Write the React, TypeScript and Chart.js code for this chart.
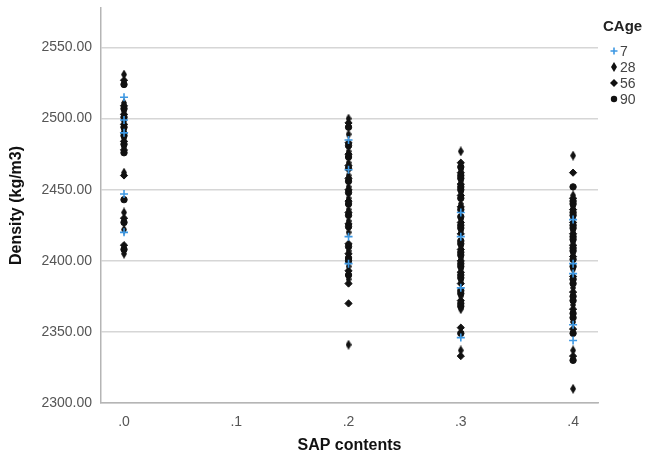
import { useEffect, useRef } from "react";
import { Chart, registerables } from "chart.js";

Chart.register(...registerables);

// SAP content levels (x) and the axis tick values
const sapLevels = [0, 0.2, 0.3, 0.4];
const xTickValues = [0, 0.1, 0.2, 0.3, 0.4];
const yTickValues = [2300, 2350, 2400, 2450, 2500, 2550];
const ageGroups = ["7", "28", "56", "90"];

// Density (kg/m3) per curing age; each row belongs to the matching entry of sapLevels
const age7 = [
  [2515, 2499, 2490, 2447, 2420],
  [2485, 2464, 2417, 2398],
  [2434, 2417, 2381, 2346],
  [2429, 2398, 2391, 2355, 2344],
];
const age28 = [
  [2531, 2511, 2505, 2498, 2492, 2486, 2480, 2462, 2434, 2422, 2405],
  [2500, 2489, 2477, 2469, 2460, 2452, 2444, 2436, 2428, 2420, 2407, 2396, 2387, 2341],
  [2477, 2464, 2456, 2448, 2440, 2429, 2421, 2410, 2402, 2394, 2386, 2375, 2366, 2337],
  [2474, 2446, 2438, 2430, 2421, 2413, 2405, 2394, 2381, 2369, 2357, 2337, 2310],
];
const age56 = [
  [2527, 2509, 2503, 2496, 2490, 2484, 2478, 2460, 2430, 2411],
  [2497, 2483, 2475, 2467, 2458, 2450, 2442, 2434, 2426, 2412, 2405, 2393, 2384, 2370],
  [2469, 2462, 2454, 2446, 2438, 2427, 2419, 2408, 2400, 2392, 2384, 2372, 2353, 2333],
  [2462, 2444, 2436, 2427, 2419, 2411, 2403, 2389, 2378, 2366, 2352, 2333],
];
const age90 = [
  [2524, 2507, 2501, 2494, 2488, 2482, 2476, 2443, 2427, 2408],
  [2494, 2481, 2473, 2465, 2456, 2448, 2440, 2432, 2424, 2410, 2402, 2400, 2390],
  [2466, 2460, 2458, 2452, 2450, 2444, 2436, 2431, 2425, 2423, 2414, 2412, 2406, 2404, 2398, 2396, 2390, 2388, 2379, 2377, 2370, 2368, 2349],
  [2452, 2442, 2440, 2434, 2432, 2425, 2423, 2417, 2415, 2409, 2407, 2401, 2396, 2387, 2384, 2375, 2372, 2363, 2360, 2349, 2330],
];

const FONT = "'Liberation Sans', Arial, sans-serif";
const BLUE = "#3d98e3";
const INK = "#111111";

function toPoints(rows: number[][]) {
  const pts: { x: number; y: number }[] = [];
  rows.forEach((row, i) => row.forEach((y) => pts.push({ x: sapLevels[i], y })));
  return pts;
}

// narrow vertical diamond used for the 28-day marker
function thinDiamond(w: number, h: number) {
  const c = document.createElement("canvas");
  c.width = w;
  c.height = h;
  const g = c.getContext("2d")!;
  g.fillStyle = INK;
  g.beginPath();
  g.moveTo(w / 2, 0);
  g.lineTo(w, h / 2);
  g.lineTo(w / 2, h);
  g.lineTo(0, h / 2);
  g.closePath();
  g.fill();
  return c;
}

export default function App() {
  const ref = useRef<HTMLCanvasElement | null>(null);

  useEffect(() => {
    document.body.style.margin = "0";
    const canvas = ref.current;
    if (!canvas) return;
    const diamond28 = thinDiamond(6, 10);

    const markerStyles: any[] = [
      { pointStyle: "cross", radius: 4, color: BLUE, borderWidth: 1.6 },
      { pointStyle: diamond28, radius: 4, color: INK, borderWidth: 1 },
      { pointStyle: "rectRot", radius: 3.6, color: INK, borderWidth: 1 },
      { pointStyle: "circle", radius: 3.2, color: INK, borderWidth: 1 },
    ];
    const seriesRows = [age7, age28, age56, age90];

    const datasets = ageGroups.map((label, i) => ({
      label,
      data: toPoints(seriesRows[i]),
      pointStyle: markerStyles[i].pointStyle,
      pointRadius: markerStyles[i].radius,
      pointBackgroundColor: markerStyles[i].color,
      pointBorderColor: markerStyles[i].color,
      pointBorderWidth: markerStyles[i].borderWidth,
      showLine: false,
    }));

    const legendPlugin = {
      id: "cageLegend",
      afterDraw(chart: any) {
        const ctx = chart.ctx as CanvasRenderingContext2D;
        ctx.save();
        ctx.textBaseline = "middle";
        ctx.textAlign = "left";
        ctx.fillStyle = "#222";
        ctx.font = `bold 15px ${FONT}`;
        ctx.fillText("CAge", 603, 27);
        ctx.font = `14px ${FONT}`;
        ageGroups.forEach((label, i) => {
          const y = 51 + i * 16;
          const mx = 614;
          const st = markerStyles[i];
          ctx.fillStyle = st.color;
          ctx.strokeStyle = st.color;
          if (st.pointStyle === "cross") {
            ctx.lineWidth = 1.6;
            ctx.beginPath();
            ctx.moveTo(mx - 3.5, y);
            ctx.lineTo(mx + 3.5, y);
            ctx.moveTo(mx, y - 3.5);
            ctx.lineTo(mx, y + 3.5);
            ctx.stroke();
          } else if (st.pointStyle === "circle") {
            ctx.beginPath();
            ctx.arc(mx, y, 3.2, 0, Math.PI * 2);
            ctx.fill();
          } else if (st.pointStyle === "rectRot") {
            ctx.beginPath();
            ctx.moveTo(mx, y - 4);
            ctx.lineTo(mx + 4, y);
            ctx.lineTo(mx, y + 4);
            ctx.lineTo(mx - 4, y);
            ctx.closePath();
            ctx.fill();
          } else {
            ctx.drawImage(diamond28, mx - 3, y - 5, 6, 10);
          }
          ctx.fillStyle = "#444";
          ctx.fillText(label, 620, y + 1);
        });
        ctx.restore();
      },
    };

    const chart = new Chart(canvas, {
      type: "scatter",
      data: { datasets },
      plugins: [legendPlugin],
      options: {
        animation: false,
        responsive: false,
        devicePixelRatio: 1,
        layout: { padding: { top: 8, right: 47, left: 0, bottom: 0 } },
        plugins: { legend: { display: false }, tooltip: { enabled: false } },
        scales: {
          x: {
            type: "linear",
            min: -0.0205,
            max: 0.4222,
            afterBuildTicks: (scale: any) => {
              scale.ticks = xTickValues.map((value) => ({ value }));
            },
            afterFit: (scale: any) => {
              scale.height = 55;
            },
            grid: { display: false, drawTicks: false },
            border: { display: true, color: "#b5b5b5", width: 1.5 },
            ticks: {
              padding: 11,
              color: "#555",
              font: { family: FONT, size: 14 },
              callback: (v: any) => Number(v).toFixed(1).replace(/^0/, ""),
            },
            title: {
              display: true,
              text: "SAP contents",
              color: "#111",
              font: { family: FONT, size: 16, weight: "bold" },
              padding: { top: 0, bottom: 3 },
            },
          },
          y: {
            type: "linear",
            min: 2300,
            max: 2577.8,
            afterBuildTicks: (scale: any) => {
              scale.ticks = yTickValues.map((value) => ({ value }));
            },
            afterFit: (scale: any) => {
              scale.width = 101;
              scale.paddingTop = 0;
            },
            grid: { color: "#d6d6d6", lineWidth: 1.5, drawTicks: false },
            border: { display: true, color: "#b5b5b5", width: 1.5 },
            ticks: {
              padding: 9,
              color: "#555",
              font: { family: FONT, size: 14 },
              callback: (v: any) => Number(v).toFixed(2),
            },
            title: {
              display: true,
              text: "Density (kg/m3)",
              color: "#111",
              font: { family: FONT, size: 16, weight: "bold" },
              padding: { top: 7, bottom: 0 },
            },
          },
        },
      } as any,
    });

    return () => chart.destroy();
  }, []);

  return (
    <div style={{ width: 645, height: 458, background: "#fff" }}>
      <canvas ref={ref} width={645} height={458} />
    </div>
  );
}
